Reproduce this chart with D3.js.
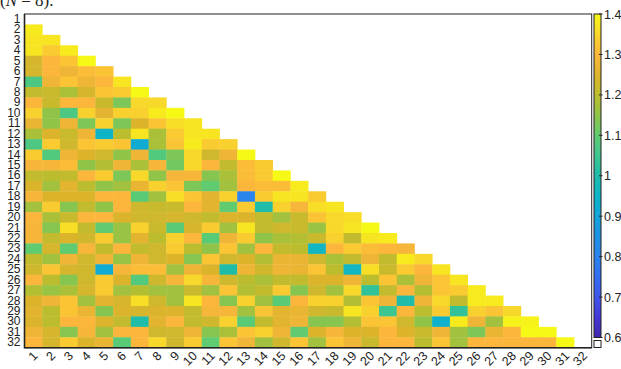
<!DOCTYPE html>
<html>
<head>
<meta charset="utf-8">
<script src="https://cdn.jsdelivr.net/npm/d3@7"></script>
<style>
  body { margin: 0; background: #fff; }
  svg { display: block; }
  text { font-family: "Liberation Sans", Arial, sans-serif; fill: #222; }
</style>
</head>
<body>
<svg id="chart"></svg>
<script>
// labels 1..32
const labels = d3.range(1, 33);

// lower triangle, row i holds columns 1..i-1 (row 1 is empty)
const row02 = [1.38];
const row03 = [1.37, 1.37];
const row04 = [1.37, 1.33, 1.38];
const row05 = [1.24, 1.30, 1.32, 1.40];
const row06 = [1.24, 1.30, 1.28, 1.31, 1.32];
const row07 = [1.07, 1.28, 1.32, 1.28, 1.30, 1.37];
const row08 = [1.21, 1.22, 1.18, 1.24, 1.32, 1.33, 1.40];
const row09 = [1.30, 1.22, 1.30, 1.30, 1.22, 1.13, 1.35, 1.35];
const row10 = [1.34, 1.15, 1.07, 1.34, 1.26, 1.34, 1.34, 1.38, 1.40];
const row11 = [1.27, 1.15, 1.28, 1.13, 1.34, 1.13, 1.25, 1.32, 1.36, 1.37];
const row12 = [1.18, 1.25, 1.22, 1.28, 0.95, 1.20, 1.37, 1.18, 1.33, 1.37, 1.37];
const row13 = [1.07, 1.33, 1.23, 1.32, 1.33, 1.32, 0.92, 1.18, 1.32, 1.38, 1.33, 1.34];
const row14 = [1.33, 1.08, 1.28, 1.25, 1.23, 1.15, 1.28, 1.08, 1.13, 1.35, 1.23, 1.28, 1.40];
const row15 = [1.29, 1.29, 1.31, 1.15, 1.19, 1.28, 1.18, 1.29, 1.12, 1.35, 1.30, 1.21, 1.31, 1.33];
const row16 = [1.21, 1.20, 1.21, 1.30, 1.33, 1.13, 1.35, 1.15, 1.29, 1.29, 1.14, 1.18, 1.31, 1.33, 1.40];
const row17 = [1.25, 1.17, 1.26, 1.20, 1.15, 1.17, 1.27, 1.34, 1.32, 1.13, 1.10, 1.17, 1.30, 1.31, 1.31, 1.38];
const row18 = [1.29, 1.25, 1.25, 1.25, 1.30, 1.30, 1.09, 1.17, 1.36, 1.32, 1.26, 1.34, 0.80, 1.33, 1.37, 1.37, 1.33];
const row19 = [1.17, 1.33, 1.14, 1.21, 1.15, 1.30, 1.23, 1.22, 1.22, 1.30, 1.26, 1.10, 1.33, 1.00, 1.34, 1.29, 1.36, 1.37];
const row20 = [1.30, 1.18, 1.22, 1.30, 1.30, 1.25, 1.23, 1.23, 1.24, 1.23, 1.21, 1.25, 1.25, 1.21, 1.17, 1.22, 1.32, 1.35, 1.36];
const row21 = [1.29, 1.14, 1.36, 1.21, 1.10, 1.16, 1.34, 1.22, 1.09, 1.24, 1.33, 1.17, 1.37, 1.21, 1.23, 1.22, 1.16, 1.35, 1.37, 1.40];
const row22 = [1.29, 1.21, 1.25, 1.23, 1.33, 1.16, 1.26, 1.20, 1.34, 1.30, 1.09, 1.28, 1.33, 1.15, 1.18, 1.19, 1.22, 1.34, 1.21, 1.37, 1.38];
const row23 = [1.10, 1.24, 1.10, 1.29, 1.21, 1.30, 1.21, 1.23, 1.33, 1.20, 1.15, 1.32, 1.17, 1.30, 1.21, 1.20, 0.96, 1.30, 1.33, 1.31, 1.30, 1.29];
const row24 = [1.21, 1.17, 1.28, 1.23, 1.28, 1.16, 1.28, 1.23, 1.25, 1.14, 1.32, 1.23, 1.25, 1.19, 1.27, 1.27, 1.23, 1.18, 1.21, 1.28, 1.21, 1.38, 1.35];
const row25 = [1.23, 1.32, 1.24, 1.23, 0.92, 1.29, 1.31, 1.31, 1.17, 1.28, 1.25, 1.00, 1.28, 1.23, 1.28, 1.27, 1.32, 1.20, 0.96, 1.36, 1.22, 1.33, 1.30, 1.37];
const row26 = [1.30, 1.20, 1.14, 1.23, 1.33, 1.25, 1.08, 1.23, 1.29, 1.35, 1.29, 1.23, 1.20, 1.18, 1.21, 1.21, 1.25, 1.25, 1.28, 1.20, 1.32, 1.18, 1.28, 1.32, 1.37];
const row27 = [1.19, 1.16, 1.18, 1.24, 1.33, 1.17, 1.19, 1.17, 1.17, 1.22, 1.17, 1.32, 1.19, 1.21, 1.33, 1.14, 1.23, 1.17, 1.35, 1.03, 1.21, 1.30, 1.19, 1.32, 1.33, 1.38];
const row28 = [1.25, 1.28, 1.32, 1.17, 1.26, 1.24, 1.36, 1.23, 1.17, 1.37, 1.30, 1.14, 1.34, 1.17, 1.09, 1.30, 1.34, 1.34, 1.19, 1.32, 1.28, 1.00, 1.28, 1.35, 1.21, 1.38, 1.38];
const row29 = [1.26, 1.20, 1.32, 1.27, 1.14, 1.25, 1.24, 1.25, 1.25, 1.21, 1.29, 1.29, 1.17, 1.32, 1.26, 1.27, 1.23, 1.22, 1.37, 1.34, 1.05, 1.30, 1.20, 1.33, 1.03, 1.34, 1.32, 1.35];
const row30 = [1.25, 1.20, 1.30, 1.30, 1.25, 1.21, 1.00, 1.26, 1.30, 1.21, 1.23, 1.34, 1.09, 1.21, 1.26, 1.28, 1.14, 1.14, 1.19, 1.32, 1.32, 1.23, 1.15, 0.94, 1.38, 1.28, 1.17, 1.39, 1.39];
const row31 = [1.28, 1.24, 1.14, 1.29, 1.17, 1.30, 1.30, 1.23, 1.23, 1.28, 1.14, 1.18, 1.32, 1.34, 1.28, 1.10, 1.25, 1.29, 1.25, 1.25, 1.30, 1.25, 1.22, 1.28, 1.17, 1.13, 1.27, 1.30, 1.40, 1.40];
const row32 = [1.30, 1.24, 1.33, 1.25, 1.27, 1.09, 1.30, 1.35, 1.23, 1.33, 1.10, 1.32, 1.28, 1.17, 1.23, 1.32, 1.17, 1.32, 1.28, 1.22, 1.30, 1.30, 1.20, 1.32, 1.17, 1.30, 1.30, 1.30, 1.30, 1.30, 1.40];

const colorTicks = [0.6, 0.7, 0.8, 0.9, 1.0, 1.1, 1.2, 1.3, 1.4];

const rows = [[], row02, row03, row04, row05, row06, row07, row08, row09, row10,
  row11, row12, row13, row14, row15, row16, row17, row18, row19, row20,
  row21, row22, row23, row24, row25, row26, row27, row28, row29, row30,
  row31, row32];

const cells = [];
rows.forEach((vals, i) => {
  vals.forEach((v, j) => cells.push({ row: i + 1, col: j + 1, value: v }));
});

const width = 621, height = 369;
const svg = d3.select("#chart").attr("width", width).attr("height", height);

// parula-like colour map
const parulaStops = [
  [0.60, "#3e26a8"], [0.65, "#4538d8"], [0.70, "#3f55ec"], [0.75, "#336ef3"],
  [0.80, "#2a84ee"], [0.85, "#1d92e4"], [0.90, "#12a5d8"], [0.95, "#0db4c8"],
  [1.00, "#1fbcaa"], [1.05, "#3ec690"], [1.10, "#60cb70"], [1.15, "#90c448"],
  [1.20, "#bcbd2e"], [1.25, "#dcb42c"], [1.30, "#fcb63c"], [1.35, "#f8d82a"],
  [1.40, "#f6f816"]
];
const color = d3.scaleLinear()
  .domain(parulaStops.map(d => d[0]))
  .range(parulaStops.map(d => d[1]))
  .interpolate(d3.interpolateRgb)
  .clamp(true);

const x = d3.scaleBand().domain(labels).range([24.5, 591.7]).padding(0);
const y = d3.scaleBand().domain(labels).range([14, 347.7]).padding(0);

/* cells */
svg.append("g")
  .selectAll("rect")
  .data(cells)
  .enter()
  .append("rect")
  .attr("x", d => x(d.col))
  .attr("y", d => y(d.row))
  .attr("width", x.bandwidth() + 0.4)
  .attr("height", y.bandwidth() + 0.4)
  .attr("fill", d => color(d.value));

/* axes */
const yAxis = svg.append("g")
  .attr("transform", "translate(24.5,0)")
  .call(d3.axisLeft(y).tickSize(0).tickPadding(4));
yAxis.select(".domain").remove();
yAxis.selectAll("text")
  .style("font-size", "12px")
  .attr("fill", "#222");

const xAxis = svg.append("g")
  .attr("transform", "translate(0,347.7)")
  .call(d3.axisBottom(x).tickSize(0).tickPadding(0));
xAxis.select(".domain").remove();
xAxis.selectAll("text")
  .style("font-size", "12.5px")
  .attr("fill", "#222")
  .attr("text-anchor", "end")
  .attr("dy", 0)
  .attr("y", 0)
  .attr("transform", "translate(5,9) rotate(-45)");

// box around the plot
svg.append("rect")
  .attr("x", 24.5).attr("y", 14)
  .attr("width", 591.7 - 24.5).attr("height", 347.7 - 14)
  .attr("fill", "none").attr("stroke", "#222").attr("stroke-width", 1);
svg.append("path")
  .attr("d", "M24.5,14V347.7H591.7")
  .attr("fill", "none").attr("stroke", "#222").attr("stroke-width", 1.6);

/* colour bar */
const cbX = 594, cbW = 7;
const cbScale = d3.scaleLinear().domain([0.6, 1.4]).range([337.5, 14]);

const defs = svg.append("defs");
const grad = defs.append("linearGradient")
  .attr("id", "cbgrad")
  .attr("x1", 0).attr("y1", 1).attr("x2", 0).attr("y2", 0);
grad.selectAll("stop")
  .data(d3.range(0, 1.0001, 0.02))
  .enter()
  .append("stop")
  .attr("offset", d => d)
  .attr("stop-color", d => color(0.6 + d * 0.8));

svg.append("rect")
  .attr("x", cbX).attr("y", cbScale(1.4))
  .attr("width", cbW).attr("height", cbScale(0.6) - cbScale(1.4))
  .attr("fill", "url(#cbgrad)")
  .attr("stroke", "#222").attr("stroke-width", 1);

const cbAxis = svg.append("g")
  .attr("transform", `translate(${cbX + cbW},0)`)
  .call(d3.axisRight(cbScale).tickValues(colorTicks).tickSize(0).tickPadding(3)
    .tickFormat(d => d3.format("~g")(d)));
cbAxis.select(".domain").remove();
cbAxis.selectAll("text").style("font-size", "12.5px").attr("fill", "#222");
svg.append("g")
  .selectAll("line")
  .data(colorTicks)
  .enter()
  .append("line")
  .attr("x1", cbX + cbW - 2).attr("x2", cbX + cbW + 1.5)
  .attr("y1", d => cbScale(d)).attr("y2", d => cbScale(d))
  .attr("stroke", "#222");

// empty (NaN) swatch below the bar
svg.append("rect")
  .attr("x", cbX).attr("y", 340.5)
  .attr("width", cbW).attr("height", 7)
  .attr("fill", "#fff").attr("stroke", "#222").attr("stroke-width", 1);

/* fragment of the caption above, cut off by the frame */
const cap = svg.append("text")
  .attr("x", 0).attr("y", 6)
  .style("font-family", "'Liberation Serif', 'DejaVu Serif', serif")
  .style("font-size", "17px");
cap.append("tspan").text("(");
cap.append("tspan").style("font-style", "italic").text("N");
cap.append("tspan").text(" = 8).");
</script>
</body>
</html>
